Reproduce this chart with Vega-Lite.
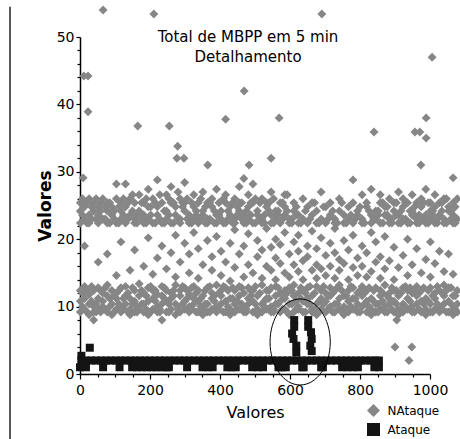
{
  "$schema": "https://vega.github.io/schema/vega-lite/v6.json",
  "width": 350,
  "height": 337,
  "autosize": "none",
  "padding": {"left": 80, "top": 37, "right": 30, "bottom": 65},
  "background": "white",
  "config": {"view": {"stroke": null}, "font": "DejaVu Sans"},
  "title": {
    "text": ["Total de MBPP em 5 min", "Detalhamento"],
    "anchor": "middle", "frame": "group", "orient": "top", "offset": 0,
    "baseline": "top", "dy": 59, "dx": -7,
    "fontSize": 15, "fontWeight": "normal", "lineHeight": 20, "color": "#000"
  },
  "datasets": {
    "na": [
      {"x":1,"y":9.2},{"x":1,"y":10.8},{"x":1,"y":12.4},{"x":1,"y":22.4},{"x":1,"y":24.2},{"x":1,"y":25.4},
      {"x":13,"y":9.6},{"x":13,"y":11.2},{"x":13,"y":13.0},{"x":13,"y":23.0},{"x":13,"y":24.8},{"x":13,"y":19.0},
      {"x":26,"y":8.8},{"x":26,"y":10.4},{"x":26,"y":11.8},{"x":26,"y":22.4},{"x":26,"y":23.6},{"x":26,"y":26.0},
      {"x":39,"y":9.2},{"x":39,"y":10.0},{"x":39,"y":12.4},{"x":39,"y":24.2},{"x":39,"y":25.4},{"x":39,"y":8.0},
      {"x":52,"y":9.6},{"x":52,"y":11.2},{"x":52,"y":12.8},{"x":52,"y":22.4},{"x":52,"y":23.6},{"x":52,"y":24.8},{"x":52,"y":16.6},
      {"x":65,"y":10.0},{"x":65,"y":10.8},{"x":65,"y":12.0},{"x":65,"y":23.0},{"x":65,"y":26.0},
      {"x":78,"y":9.2},{"x":78,"y":11.6},{"x":78,"y":13.2},{"x":78,"y":22.4},{"x":78,"y":24.2},{"x":78,"y":25.4},{"x":78,"y":17.8},
      {"x":91,"y":8.8},{"x":91,"y":10.4},{"x":91,"y":12.4},{"x":91,"y":23.6},{"x":91,"y":24.8},
      {"x":104,"y":9.6},{"x":104,"y":11.2},{"x":104,"y":12.0},{"x":104,"y":22.4},{"x":104,"y":26.0},{"x":104,"y":28.2},{"x":104,"y":14.6},
      {"x":117,"y":9.2},{"x":117,"y":10.0},{"x":117,"y":12.8},{"x":117,"y":23.0},{"x":117,"y":24.2},{"x":117,"y":25.4},{"x":117,"y":19.6},
      {"x":130,"y":10.4},{"x":130,"y":11.6},{"x":130,"y":13.0},{"x":130,"y":22.4},{"x":130,"y":24.8},{"x":130,"y":28.2},
      {"x":143,"y":8.8},{"x":143,"y":9.6},{"x":143,"y":11.2},{"x":143,"y":23.6},{"x":143,"y":26.0},{"x":143,"y":15.4},
      {"x":156,"y":9.2},{"x":156,"y":10.8},{"x":156,"y":12.4},{"x":156,"y":22.4},{"x":156,"y":23.0},{"x":156,"y":25.4},{"x":156,"y":18.4},
      {"x":169,"y":9.6},{"x":169,"y":11.6},{"x":169,"y":13.4},{"x":169,"y":24.2},{"x":169,"y":26.6},
      {"x":182,"y":9.2},{"x":182,"y":10.4},{"x":182,"y":12.0},{"x":182,"y":22.4},{"x":182,"y":23.6},{"x":182,"y":25.4},{"x":182,"y":16.0},
      {"x":195,"y":8.8},{"x":195,"y":10.8},{"x":195,"y":12.8},{"x":195,"y":23.0},{"x":195,"y":24.8},{"x":195,"y":27.4},{"x":195,"y":20.2},
      {"x":208,"y":9.6},{"x":208,"y":11.2},{"x":208,"y":12.4},{"x":208,"y":22.4},{"x":208,"y":26.0},{"x":208,"y":14.8},
      {"x":221,"y":9.2},{"x":221,"y":10.0},{"x":221,"y":11.8},{"x":221,"y":23.6},{"x":221,"y":24.8},{"x":221,"y":28.8},{"x":221,"y":17.2},
      {"x":234,"y":10.4},{"x":234,"y":11.6},{"x":234,"y":13.0},{"x":234,"y":22.4},{"x":234,"y":25.4},{"x":234,"y":8.0},{"x":234,"y":19.0},
      {"x":247,"y":9.2},{"x":247,"y":10.8},{"x":247,"y":12.4},{"x":247,"y":23.0},{"x":247,"y":24.2},{"x":247,"y":26.6},{"x":247,"y":15.6},
      {"x":260,"y":9.6},{"x":260,"y":11.2},{"x":260,"y":12.0},{"x":260,"y":22.4},{"x":260,"y":25.4},{"x":260,"y":27.8},{"x":260,"y":18.0},
      {"x":273,"y":8.8},{"x":273,"y":10.4},{"x":273,"y":13.2},{"x":273,"y":23.6},{"x":273,"y":24.8},{"x":273,"y":14.4},{"x":273,"y":20.6},
      {"x":286,"y":9.2},{"x":286,"y":11.6},{"x":286,"y":12.4},{"x":286,"y":22.4},{"x":286,"y":23.0},{"x":286,"y":26.0},{"x":286,"y":16.6},
      {"x":299,"y":9.6},{"x":299,"y":10.8},{"x":299,"y":12.8},{"x":299,"y":24.2},{"x":299,"y":25.4},{"x":299,"y":28.4},{"x":299,"y":19.4},
      {"x":312,"y":9.2},{"x":312,"y":10.0},{"x":312,"y":11.8},{"x":312,"y":22.4},{"x":312,"y":23.6},{"x":312,"y":15.0},{"x":312,"y":17.8},
      {"x":325,"y":10.4},{"x":325,"y":11.2},{"x":325,"y":13.0},{"x":325,"y":23.0},{"x":325,"y":24.8},{"x":325,"y":26.6},{"x":325,"y":21.0},
      {"x":338,"y":9.2},{"x":338,"y":10.8},{"x":338,"y":12.4},{"x":338,"y":22.4},{"x":338,"y":25.4},{"x":338,"y":14.2},{"x":338,"y":18.6},
      {"x":351,"y":8.8},{"x":351,"y":9.6},{"x":351,"y":11.6},{"x":351,"y":23.6},{"x":351,"y":24.2},{"x":351,"y":27.0},{"x":351,"y":16.2},
      {"x":364,"y":9.2},{"x":364,"y":10.4},{"x":364,"y":12.8},{"x":364,"y":22.4},{"x":364,"y":23.0},{"x":364,"y":25.4},{"x":364,"y":19.8},
      {"x":377,"y":9.6},{"x":377,"y":11.2},{"x":377,"y":12.0},{"x":377,"y":24.8},{"x":377,"y":26.0},{"x":377,"y":15.4},{"x":377,"y":17.4},
      {"x":390,"y":9.2},{"x":390,"y":10.0},{"x":390,"y":13.2},{"x":390,"y":22.4},{"x":390,"y":23.6},{"x":390,"y":27.4},{"x":390,"y":20.4},
      {"x":403,"y":10.4},{"x":403,"y":11.6},{"x":403,"y":12.4},{"x":403,"y":23.0},{"x":403,"y":24.2},{"x":403,"y":14.6},{"x":403,"y":18.2},
      {"x":416,"y":9.2},{"x":416,"y":10.8},{"x":416,"y":12.8},{"x":416,"y":22.4},{"x":416,"y":25.4},{"x":416,"y":26.6},{"x":416,"y":16.6},
      {"x":429,"y":8.8},{"x":429,"y":9.6},{"x":429,"y":11.2},{"x":429,"y":23.6},{"x":429,"y":24.8},{"x":429,"y":13.8},{"x":429,"y":19.4},
      {"x":442,"y":9.2},{"x":442,"y":10.4},{"x":442,"y":12.4},{"x":442,"y":22.4},{"x":442,"y":23.0},{"x":442,"y":26.0},{"x":442,"y":15.8},{"x":442,"y":21.4},
      {"x":455,"y":9.6},{"x":455,"y":11.6},{"x":455,"y":13.0},{"x":455,"y":24.2},{"x":455,"y":25.4},{"x":455,"y":27.8},{"x":455,"y":17.8},
      {"x":468,"y":9.2},{"x":468,"y":10.0},{"x":468,"y":12.0},{"x":468,"y":22.4},{"x":468,"y":23.6},{"x":468,"y":29.0},{"x":468,"y":14.4},{"x":468,"y":19.0},
      {"x":481,"y":10.4},{"x":481,"y":11.2},{"x":481,"y":12.8},{"x":481,"y":23.0},{"x":481,"y":24.8},{"x":481,"y":26.6},{"x":481,"y":16.2},{"x":481,"y":20.8},
      {"x":494,"y":9.2},{"x":494,"y":10.8},{"x":494,"y":12.4},{"x":494,"y":22.4},{"x":494,"y":25.4},{"x":494,"y":28.2},{"x":494,"y":15.0},
      {"x":507,"y":8.8},{"x":507,"y":9.6},{"x":507,"y":11.6},{"x":507,"y":23.6},{"x":507,"y":24.2},{"x":507,"y":17.4},{"x":507,"y":19.8},
      {"x":520,"y":9.2},{"x":520,"y":10.4},{"x":520,"y":13.2},{"x":520,"y":22.4},{"x":520,"y":23.0},{"x":520,"y":26.0},{"x":520,"y":14.2},{"x":520,"y":18.4},
      {"x":533,"y":9.6},{"x":533,"y":11.2},{"x":533,"y":12.4},{"x":533,"y":24.8},{"x":533,"y":25.4},{"x":533,"y":16.0},{"x":533,"y":21.6},
      {"x":546,"y":9.2},{"x":546,"y":10.0},{"x":546,"y":12.8},{"x":546,"y":22.4},{"x":546,"y":23.6},{"x":546,"y":27.0},{"x":546,"y":15.4},{"x":546,"y":18.8},
      {"x":559,"y":10.4},{"x":559,"y":11.6},{"x":559,"y":13.0},{"x":559,"y":23.0},{"x":559,"y":24.2},{"x":559,"y":14.0},{"x":559,"y":17.2},{"x":559,"y":20.0},
      {"x":572,"y":9.2},{"x":572,"y":10.8},{"x":572,"y":12.0},{"x":572,"y":22.4},{"x":572,"y":25.4},{"x":572,"y":16.4},{"x":572,"y":19.2},
      {"x":585,"y":9.6},{"x":585,"y":11.2},{"x":585,"y":12.4},{"x":585,"y":23.6},{"x":585,"y":24.8},{"x":585,"y":26.6},{"x":585,"y":15.0},{"x":585,"y":21.0},
      {"x":598,"y":8.8},{"x":598,"y":10.4},{"x":598,"y":12.8},{"x":598,"y":22.4},{"x":598,"y":23.0},{"x":598,"y":14.4},{"x":598,"y":17.8},
      {"x":611,"y":9.2},{"x":611,"y":11.6},{"x":611,"y":13.2},{"x":611,"y":24.2},{"x":611,"y":25.4},{"x":611,"y":16.2},{"x":611,"y":19.6},
      {"x":624,"y":9.6},{"x":624,"y":10.0},{"x":624,"y":12.0},{"x":624,"y":22.4},{"x":624,"y":23.6},{"x":624,"y":15.2},{"x":624,"y":18.2},{"x":624,"y":20.6},
      {"x":637,"y":9.2},{"x":637,"y":10.8},{"x":637,"y":12.4},{"x":637,"y":23.0},{"x":637,"y":26.0},{"x":637,"y":14.0},{"x":637,"y":16.8},
      {"x":650,"y":10.4},{"x":650,"y":11.2},{"x":650,"y":12.8},{"x":650,"y":22.4},{"x":650,"y":24.8},{"x":650,"y":17.4},{"x":650,"y":19.0},
      {"x":663,"y":9.2},{"x":663,"y":9.6},{"x":663,"y":11.6},{"x":663,"y":23.6},{"x":663,"y":25.4},{"x":663,"y":15.4},{"x":663,"y":21.2},
      {"x":676,"y":8.8},{"x":676,"y":10.4},{"x":676,"y":13.0},{"x":676,"y":22.4},{"x":676,"y":24.2},{"x":676,"y":14.2},{"x":676,"y":16.2},{"x":676,"y":18.6},
      {"x":689,"y":9.6},{"x":689,"y":11.2},{"x":689,"y":12.4},{"x":689,"y":23.0},{"x":689,"y":27.0},{"x":689,"y":15.6},{"x":689,"y":20.2},
      {"x":702,"y":9.2},{"x":702,"y":10.8},{"x":702,"y":12.0},{"x":702,"y":22.4},{"x":702,"y":24.8},{"x":702,"y":14.6},{"x":702,"y":17.6},
      {"x":715,"y":10.0},{"x":715,"y":11.6},{"x":715,"y":12.8},{"x":715,"y":23.6},{"x":715,"y":25.4},{"x":715,"y":16.0},{"x":715,"y":19.4},
      {"x":728,"y":9.2},{"x":728,"y":10.4},{"x":728,"y":12.4},{"x":728,"y":22.4},{"x":728,"y":23.0},{"x":728,"y":14.2},{"x":728,"y":18.0},{"x":728,"y":21.6},
      {"x":741,"y":9.6},{"x":741,"y":11.2},{"x":741,"y":13.2},{"x":741,"y":24.2},{"x":741,"y":26.0},{"x":741,"y":15.4},{"x":741,"y":17.0},
      {"x":754,"y":8.8},{"x":754,"y":10.0},{"x":754,"y":11.6},{"x":754,"y":22.4},{"x":754,"y":23.6},{"x":754,"y":16.4},{"x":754,"y":19.8},
      {"x":767,"y":9.2},{"x":767,"y":10.8},{"x":767,"y":12.4},{"x":767,"y":23.0},{"x":767,"y":24.8},{"x":767,"y":14.0},{"x":767,"y":18.4},
      {"x":780,"y":9.6},{"x":780,"y":11.2},{"x":780,"y":12.8},{"x":780,"y":22.4},{"x":780,"y":25.4},{"x":780,"y":28.8},{"x":780,"y":15.8},{"x":780,"y":20.6},
      {"x":793,"y":9.2},{"x":793,"y":10.4},{"x":793,"y":12.0},{"x":793,"y":23.6},{"x":793,"y":24.2},{"x":793,"y":14.6},{"x":793,"y":17.2},
      {"x":806,"y":10.0},{"x":806,"y":11.6},{"x":806,"y":13.0},{"x":806,"y":22.4},{"x":806,"y":23.0},{"x":806,"y":26.6},{"x":806,"y":16.0},{"x":806,"y":19.0},
      {"x":819,"y":9.2},{"x":819,"y":10.8},{"x":819,"y":12.4},{"x":819,"y":24.8},{"x":819,"y":25.4},{"x":819,"y":14.4},{"x":819,"y":18.0},
      {"x":832,"y":8.8},{"x":832,"y":9.6},{"x":832,"y":11.2},{"x":832,"y":22.4},{"x":832,"y":23.6},{"x":832,"y":27.4},{"x":832,"y":15.2},{"x":832,"y":21.0},
      {"x":845,"y":9.2},{"x":845,"y":10.4},{"x":845,"y":12.8},{"x":845,"y":23.0},{"x":845,"y":24.2},{"x":845,"y":16.6},{"x":845,"y":19.6},
      {"x":858,"y":9.6},{"x":858,"y":11.6},{"x":858,"y":12.4},{"x":858,"y":22.4},{"x":858,"y":25.4},{"x":858,"y":26.6},{"x":858,"y":14.2},{"x":858,"y":17.4},
      {"x":871,"y":9.2},{"x":871,"y":10.0},{"x":871,"y":13.2},{"x":871,"y":23.6},{"x":871,"y":24.8},{"x":871,"y":15.6},{"x":871,"y":20.4},
      {"x":884,"y":10.4},{"x":884,"y":11.2},{"x":884,"y":12.0},{"x":884,"y":22.4},{"x":884,"y":23.0},{"x":884,"y":26.0},{"x":884,"y":16.8},
      {"x":897,"y":9.2},{"x":897,"y":10.8},{"x":897,"y":12.4},{"x":897,"y":24.2},{"x":897,"y":25.4},{"x":897,"y":14.0},{"x":897,"y":18.8},
      {"x":910,"y":8.8},{"x":910,"y":9.6},{"x":910,"y":11.6},{"x":910,"y":22.4},{"x":910,"y":23.6},{"x":910,"y":27.0},{"x":910,"y":15.8},
      {"x":923,"y":9.2},{"x":923,"y":10.4},{"x":923,"y":12.8},{"x":923,"y":23.0},{"x":923,"y":24.8},{"x":923,"y":26.0},{"x":923,"y":17.6},
      {"x":936,"y":9.6},{"x":936,"y":11.2},{"x":936,"y":12.4},{"x":936,"y":22.4},{"x":936,"y":25.4},{"x":936,"y":14.6},{"x":936,"y":20.0},
      {"x":949,"y":9.2},{"x":949,"y":10.0},{"x":949,"y":12.0},{"x":949,"y":23.6},{"x":949,"y":24.2},{"x":949,"y":26.6},{"x":949,"y":16.2},
      {"x":962,"y":10.4},{"x":962,"y":11.6},{"x":962,"y":13.0},{"x":962,"y":22.4},{"x":962,"y":23.0},{"x":962,"y":25.4},{"x":962,"y":18.6},
      {"x":975,"y":9.2},{"x":975,"y":10.8},{"x":975,"y":12.4},{"x":975,"y":24.8},{"x":975,"y":26.0},{"x":975,"y":15.0},
      {"x":988,"y":8.8},{"x":988,"y":9.6},{"x":988,"y":11.2},{"x":988,"y":22.4},{"x":988,"y":23.6},{"x":988,"y":27.4},{"x":988,"y":17.0},
      {"x":1001,"y":9.2},{"x":1001,"y":10.4},{"x":1001,"y":12.8},{"x":1001,"y":23.0},{"x":1001,"y":24.2},{"x":1001,"y":25.4},{"x":1001,"y":14.4},{"x":1001,"y":19.6},
      {"x":1014,"y":9.6},{"x":1014,"y":11.2},{"x":1014,"y":12.0},{"x":1014,"y":22.4},{"x":1014,"y":24.8},{"x":1014,"y":26.6},{"x":1014,"y":16.4},
      {"x":1027,"y":9.2},{"x":1027,"y":10.0},{"x":1027,"y":12.4},{"x":1027,"y":23.6},{"x":1027,"y":25.4},{"x":1027,"y":18.2},
      {"x":1040,"y":10.4},{"x":1040,"y":11.6},{"x":1040,"y":13.2},{"x":1040,"y":22.4},{"x":1040,"y":23.0},{"x":1040,"y":26.0},{"x":1040,"y":15.2},
      {"x":1053,"y":9.2},{"x":1053,"y":10.8},{"x":1053,"y":12.8},{"x":1053,"y":24.2},{"x":1053,"y":24.8},{"x":1053,"y":17.8},
      {"x":1066,"y":8.8},{"x":1066,"y":9.6},{"x":1066,"y":11.6},{"x":1066,"y":22.4},{"x":1066,"y":23.6},{"x":1066,"y":25.4},{"x":1066,"y":14.8},
      {"x":1078,"y":9.2},{"x":1078,"y":10.4},{"x":1078,"y":12.4},{"x":1078,"y":23.0},{"x":1078,"y":26.0},
      {"x":7,"y":10.0},{"x":7,"y":12.0},{"x":7,"y":23.6},{"x":7,"y":26.0},
      {"x":20,"y":9.2},{"x":20,"y":12.4},{"x":20,"y":22.4},{"x":20,"y":25.4},
      {"x":33,"y":10.8},{"x":33,"y":13.0},{"x":33,"y":23.0},{"x":33,"y":24.8},
      {"x":46,"y":9.2},{"x":46,"y":10.4},{"x":46,"y":23.0},{"x":46,"y":26.0},
      {"x":59,"y":9.2},{"x":59,"y":12.4},{"x":59,"y":24.2},{"x":59,"y":25.4},
      {"x":72,"y":9.6},{"x":72,"y":12.8},{"x":72,"y":23.0},{"x":72,"y":24.8},
      {"x":85,"y":10.0},{"x":85,"y":11.2},{"x":85,"y":22.4},{"x":85,"y":25.4},
      {"x":98,"y":9.2},{"x":98,"y":11.6},{"x":98,"y":23.0},{"x":98,"y":24.2},
      {"x":111,"y":10.4},{"x":111,"y":12.4},{"x":111,"y":22.4},{"x":111,"y":24.8},
      {"x":124,"y":9.6},{"x":124,"y":11.2},{"x":124,"y":23.6},{"x":124,"y":26.0},
      {"x":137,"y":9.2},{"x":137,"y":12.0},{"x":137,"y":23.0},{"x":137,"y":25.4},
      {"x":150,"y":10.4},{"x":150,"y":12.8},{"x":150,"y":24.2},{"x":150,"y":26.6},
      {"x":163,"y":9.2},{"x":163,"y":10.0},{"x":163,"y":22.4},{"x":163,"y":23.6},
      {"x":176,"y":10.4},{"x":176,"y":12.4},{"x":176,"y":23.0},{"x":176,"y":25.4},
      {"x":189,"y":9.6},{"x":189,"y":11.6},{"x":189,"y":22.4},{"x":189,"y":26.0},
      {"x":202,"y":9.2},{"x":202,"y":13.0},{"x":202,"y":23.6},{"x":202,"y":24.8},
      {"x":215,"y":10.8},{"x":215,"y":12.4},{"x":215,"y":22.4},{"x":215,"y":25.4},
      {"x":228,"y":9.2},{"x":228,"y":9.6},{"x":228,"y":23.0},{"x":228,"y":26.6},
      {"x":241,"y":11.2},{"x":241,"y":12.8},{"x":241,"y":22.4},{"x":241,"y":24.2},
      {"x":254,"y":9.2},{"x":254,"y":10.4},{"x":254,"y":23.6},{"x":254,"y":26.0},
      {"x":267,"y":11.6},{"x":267,"y":12.4},{"x":267,"y":22.4},{"x":267,"y":25.4},
      {"x":280,"y":9.6},{"x":280,"y":10.0},{"x":280,"y":23.0},{"x":280,"y":27.0},
      {"x":293,"y":10.4},{"x":293,"y":13.0},{"x":293,"y":24.8},{"x":293,"y":25.4},
      {"x":306,"y":11.2},{"x":306,"y":12.4},{"x":306,"y":23.0},{"x":306,"y":26.0},
      {"x":319,"y":9.6},{"x":319,"y":12.8},{"x":319,"y":22.4},{"x":319,"y":25.4},
      {"x":332,"y":9.2},{"x":332,"y":12.0},{"x":332,"y":23.6},{"x":332,"y":24.2},
      {"x":345,"y":10.0},{"x":345,"y":11.2},{"x":345,"y":23.0},{"x":345,"y":26.0},
      {"x":358,"y":10.4},{"x":358,"y":12.4},{"x":358,"y":24.8},{"x":358,"y":22.4},
      {"x":371,"y":9.2},{"x":371,"y":13.0},{"x":371,"y":23.0},{"x":371,"y":25.4},
      {"x":384,"y":10.8},{"x":384,"y":11.6},{"x":384,"y":22.4},{"x":384,"y":24.2},
      {"x":397,"y":9.6},{"x":397,"y":12.0},{"x":397,"y":23.6},{"x":397,"y":25.4},
      {"x":410,"y":9.2},{"x":410,"y":13.0},{"x":410,"y":22.4},{"x":410,"y":26.0},
      {"x":423,"y":10.0},{"x":423,"y":12.4},{"x":423,"y":23.0},{"x":423,"y":24.2},
      {"x":436,"y":11.2},{"x":436,"y":12.8},{"x":436,"y":22.4},{"x":436,"y":25.4},
      {"x":449,"y":9.6},{"x":449,"y":10.8},{"x":449,"y":23.6},{"x":449,"y":24.8},
      {"x":462,"y":10.4},{"x":462,"y":12.8},{"x":462,"y":23.0},{"x":462,"y":25.4},
      {"x":475,"y":9.2},{"x":475,"y":9.6},{"x":475,"y":22.4},{"x":475,"y":24.2},
      {"x":488,"y":11.6},{"x":488,"y":12.4},{"x":488,"y":23.6},{"x":488,"y":25.4},
      {"x":501,"y":10.4},{"x":501,"y":13.0},{"x":501,"y":22.4},{"x":501,"y":26.0},
      {"x":514,"y":9.2},{"x":514,"y":12.0},{"x":514,"y":23.0},{"x":514,"y":25.4},
      {"x":527,"y":10.0},{"x":527,"y":10.8},{"x":527,"y":22.4},{"x":527,"y":23.6},
      {"x":540,"y":11.2},{"x":540,"y":12.4},{"x":540,"y":24.2},{"x":540,"y":25.4},
      {"x":553,"y":9.2},{"x":553,"y":9.6},{"x":553,"y":22.4},{"x":553,"y":26.0},
      {"x":566,"y":10.4},{"x":566,"y":12.8},{"x":566,"y":23.6},{"x":566,"y":24.2},
      {"x":579,"y":9.6},{"x":579,"y":11.6},{"x":579,"y":23.0},{"x":579,"y":25.4},
      {"x":592,"y":9.2},{"x":592,"y":12.0},{"x":592,"y":24.2},{"x":592,"y":26.6},
      {"x":605,"y":10.4},{"x":605,"y":12.4},{"x":605,"y":22.4},{"x":605,"y":23.0},
      {"x":618,"y":9.6},{"x":618,"y":10.8},{"x":618,"y":23.6},{"x":618,"y":24.8},
      {"x":631,"y":11.2},{"x":631,"y":12.8},{"x":631,"y":22.4},
      {"x":644,"y":9.2},{"x":644,"y":12.0},{"x":644,"y":24.2},
      {"x":657,"y":10.4},{"x":657,"y":13.0},{"x":657,"y":23.0},
      {"x":670,"y":9.6},{"x":670,"y":12.0},{"x":670,"y":25.4},
      {"x":683,"y":9.2},{"x":683,"y":10.8},{"x":683,"y":22.4},
      {"x":696,"y":10.4},{"x":696,"y":13.0},{"x":696,"y":24.8},
      {"x":709,"y":9.6},{"x":709,"y":11.6},{"x":709,"y":23.0},
      {"x":722,"y":9.2},{"x":722,"y":12.0},{"x":722,"y":24.2},
      {"x":735,"y":10.4},{"x":735,"y":12.8},{"x":735,"y":22.4},
      {"x":748,"y":9.2},{"x":748,"y":12.4},{"x":748,"y":25.4},
      {"x":761,"y":9.6},{"x":761,"y":11.6},{"x":761,"y":22.4},
      {"x":774,"y":10.0},{"x":774,"y":13.0},{"x":774,"y":23.6},
      {"x":787,"y":9.6},{"x":787,"y":11.2},{"x":787,"y":23.0},
      {"x":800,"y":9.2},{"x":800,"y":12.4},{"x":800,"y":24.8},
      {"x":813,"y":10.4},{"x":813,"y":12.0},{"x":813,"y":22.4},
      {"x":826,"y":10.0},{"x":826,"y":12.8},{"x":826,"y":24.2},
      {"x":839,"y":10.8},{"x":839,"y":12.4},{"x":839,"y":23.0},
      {"x":852,"y":9.2},{"x":852,"y":10.4},{"x":852,"y":23.6},{"x":852,"y":24.2},
      {"x":865,"y":10.8},{"x":865,"y":12.0},{"x":865,"y":22.4},{"x":865,"y":25.4},
      {"x":878,"y":9.2},{"x":878,"y":11.6},{"x":878,"y":23.6},{"x":878,"y":24.8},
      {"x":891,"y":9.6},{"x":891,"y":12.8},{"x":891,"y":22.4},{"x":891,"y":23.0},
      {"x":904,"y":10.4},{"x":904,"y":12.4},{"x":904,"y":23.6},{"x":904,"y":25.4},
      {"x":917,"y":9.6},{"x":917,"y":12.0},{"x":917,"y":22.4},{"x":917,"y":24.2},
      {"x":930,"y":10.0},{"x":930,"y":13.0},{"x":930,"y":23.0},{"x":930,"y":25.4},
      {"x":943,"y":10.8},{"x":943,"y":12.8},{"x":943,"y":22.4},{"x":943,"y":24.2},
      {"x":956,"y":9.2},{"x":956,"y":12.4},{"x":956,"y":23.6},{"x":956,"y":24.8},
      {"x":969,"y":9.6},{"x":969,"y":12.0},{"x":969,"y":22.4},{"x":969,"y":23.6},
      {"x":982,"y":10.4},{"x":982,"y":12.8},{"x":982,"y":23.0},{"x":982,"y":25.4},
      {"x":995,"y":10.8},{"x":995,"y":12.4},{"x":995,"y":22.4},{"x":995,"y":25.4},
      {"x":1008,"y":9.2},{"x":1008,"y":11.6},{"x":1008,"y":23.6},{"x":1008,"y":24.2},
      {"x":1021,"y":10.4},{"x":1021,"y":13.0},{"x":1021,"y":22.4},{"x":1021,"y":23.0},
      {"x":1034,"y":9.6},{"x":1034,"y":12.0},{"x":1034,"y":24.2},{"x":1034,"y":25.4},
      {"x":1047,"y":9.2},{"x":1047,"y":12.4},{"x":1047,"y":22.4},{"x":1047,"y":26.0},
      {"x":1060,"y":10.4},{"x":1060,"y":12.8},{"x":1060,"y":23.0},{"x":1060,"y":24.2},
      {"x":1072,"y":9.6},{"x":1072,"y":11.6},{"x":1072,"y":22.4},{"x":1072,"y":24.8},
      {"x":66,"y":54},{"x":211,"y":53.4},{"x":691,"y":53.4},{"x":11,"y":44.2},{"x":23,"y":44.2},{"x":23,"y":38.9},
      {"x":9,"y":29.1},{"x":165,"y":36.8},{"x":255,"y":36.8},{"x":279,"y":33.8},{"x":277,"y":32},{"x":297,"y":32},
      {"x":365,"y":31},{"x":416,"y":37.8},{"x":469,"y":42},{"x":569,"y":38},{"x":546,"y":32},{"x":483,"y":31},
      {"x":840,"y":35.9},{"x":957,"y":35.9},{"x":971,"y":35.9},{"x":989,"y":38},{"x":989,"y":35},{"x":1006,"y":47},
      {"x":974,"y":31},{"x":1066,"y":29.1},{"x":905,"y":8},{"x":900,"y":4},{"x":948,"y":4},{"x":940,"y":2}
    ],
    "at": [
      {"x":4,"y":2},{"x":18,"y":2},{"x":32,"y":2},{"x":46,"y":2},{"x":60,"y":2},{"x":74,"y":2},{"x":88,"y":2},{"x":102,"y":2},
      {"x":116,"y":2},{"x":130,"y":2},{"x":144,"y":2},{"x":158,"y":2},{"x":172,"y":2},{"x":186,"y":2},{"x":200,"y":2},{"x":214,"y":2},
      {"x":228,"y":2},{"x":242,"y":2},{"x":256,"y":2},{"x":270,"y":2},{"x":284,"y":2},{"x":298,"y":2},{"x":312,"y":2},{"x":326,"y":2},
      {"x":340,"y":2},{"x":354,"y":2},{"x":368,"y":2},{"x":382,"y":2},{"x":396,"y":2},{"x":410,"y":2},{"x":424,"y":2},{"x":438,"y":2},
      {"x":452,"y":2},{"x":466,"y":2},{"x":480,"y":2},{"x":494,"y":2},{"x":508,"y":2},{"x":522,"y":2},{"x":536,"y":2},{"x":550,"y":2},
      {"x":564,"y":2},{"x":578,"y":2},{"x":592,"y":2},{"x":606,"y":2},{"x":620,"y":2},{"x":634,"y":2},{"x":648,"y":2},{"x":662,"y":2},
      {"x":676,"y":2},{"x":690,"y":2},{"x":704,"y":2},{"x":718,"y":2},{"x":732,"y":2},{"x":746,"y":2},{"x":760,"y":2},{"x":774,"y":2},
      {"x":788,"y":2},{"x":802,"y":2},{"x":816,"y":2},{"x":830,"y":2},{"x":844,"y":2},{"x":854,"y":2},
      {"x":0,"y":1},{"x":17,"y":1},{"x":66,"y":1},{"x":113,"y":1},{"x":149,"y":1},{"x":163,"y":1},{"x":177,"y":1},{"x":191,"y":1},
      {"x":205,"y":1},{"x":219,"y":1},{"x":233,"y":1},{"x":247,"y":1},{"x":254,"y":1},{"x":306,"y":1},{"x":350,"y":1},{"x":365,"y":1},
      {"x":379,"y":1},{"x":421,"y":1},{"x":433,"y":1},{"x":445,"y":1},{"x":492,"y":1},{"x":508,"y":1},{"x":523,"y":1},{"x":567,"y":1},
      {"x":578,"y":1},{"x":588,"y":1},{"x":635,"y":1},{"x":639,"y":1},{"x":689,"y":1},{"x":694,"y":1},{"x":749,"y":1},{"x":764,"y":1},
      {"x":779,"y":1},{"x":794,"y":1},{"x":841,"y":1},{"x":854,"y":1},
      {"x":4,"y":2.7},{"x":28,"y":3.9},
      {"x":612,"y":8.0},{"x":612,"y":7.0},{"x":606,"y":6.0},{"x":610,"y":5.2},{"x":618,"y":4.2},{"x":618,"y":3.2},
      {"x":652,"y":8.0},{"x":652,"y":7.0},{"x":660,"y":6.2},{"x":662,"y":5.2},{"x":658,"y":4.2},{"x":662,"y":3.4}
    ]
  },
  "layer": [
    {
      "data": {"values": [{"k": "frame"}]},
      "mark": {"type": "rule", "clip": false, "color": "#222", "strokeWidth": 1.5},
      "encoding": {
        "x": {"datum": -200, "type": "quantitative", "scale": {"domain": [0, 1000], "nice": false, "zero": false},
          "axis": {
            "title": "Valores", "format": "d",
            "values": [0,50,100,150,200,250,300,350,400,450,500,550,600,650,700,750,800,850,900,950,1000],
            "labelExpr": "datum.value % 200 === 0 ? datum.label : ''",
            "tickSize": {"condition": {"test": "datum.value % 200 === 0", "value": 5}, "value": 3},
            "labelOverlap": false, "labelFlush": false, "grid": false,
            "domainColor": "#000", "domainWidth": 1.5, "tickColor": "#000", "tickWidth": 1.2,
            "labelColor": "#000", "labelFontSize": 14, "labelPadding": 4,
            "titleColor": "#000", "titleFontSize": 16, "titleFontWeight": "normal",
            "titleBaseline": "alphabetic", "titleY": 43
          }},
        "y": {"datum": 54.5, "type": "quantitative", "scale": {"domain": [0, 50], "nice": false, "zero": false},
          "axis": {
            "title": "Valores",
            "values": [0,2,4,6,8,10,12,14,16,18,20,22,24,26,28,30,32,34,36,38,40,42,44,46,48,50],
            "labelExpr": "datum.value % 10 === 0 ? datum.label : ''",
            "tickSize": {"condition": {"test": "datum.value % 10 === 0", "value": 4}, "value": 3},
            "labelOverlap": false, "labelFlush": false, "grid": false,
            "domainColor": "#000", "domainWidth": 1.5, "tickColor": "#000", "tickWidth": 1.2,
            "labelColor": "#000", "labelFontSize": 14, "labelPadding": 2,
            "titleColor": "#000", "titleFontSize": 17, "titleFontWeight": "bold",
            "titleBaseline": "alphabetic", "titleX": -30
          }},
        "y2": {"datum": -9.7}
      }
    },
    {
      "data": {"name": "na"},
      "mark": {"type": "point", "filled": true, "size": 80, "opacity": 1, "clip": false},
      "encoding": {
        "x": {"field": "x", "type": "quantitative", "scale": {"domain": [0, 1000], "nice": false, "zero": false},
          "axis": {
            "title": "Valores", "format": "d",
            "values": [0,50,100,150,200,250,300,350,400,450,500,550,600,650,700,750,800,850,900,950,1000],
            "labelExpr": "datum.value % 200 === 0 ? datum.label : ''",
            "tickSize": {"condition": {"test": "datum.value % 200 === 0", "value": 5}, "value": 3},
            "labelOverlap": false, "labelFlush": false, "grid": false,
            "domainColor": "#000", "domainWidth": 1.5, "tickColor": "#000", "tickWidth": 1.2,
            "labelColor": "#000", "labelFontSize": 14, "labelPadding": 4,
            "titleColor": "#000", "titleFontSize": 16, "titleFontWeight": "normal",
            "titleBaseline": "alphabetic", "titleY": 43
          }},
        "y": {"field": "y", "type": "quantitative", "scale": {"domain": [0, 50], "nice": false, "zero": false},
          "axis": {
            "title": "Valores",
            "values": [0,2,4,6,8,10,12,14,16,18,20,22,24,26,28,30,32,34,36,38,40,42,44,46,48,50],
            "labelExpr": "datum.value % 10 === 0 ? datum.label : ''",
            "tickSize": {"condition": {"test": "datum.value % 10 === 0", "value": 4}, "value": 3},
            "labelOverlap": false, "labelFlush": false, "grid": false,
            "domainColor": "#000", "domainWidth": 1.5, "tickColor": "#000", "tickWidth": 1.2,
            "labelColor": "#000", "labelFontSize": 14, "labelPadding": 2,
            "titleColor": "#000", "titleFontSize": 17, "titleFontWeight": "bold",
            "titleBaseline": "alphabetic", "titleX": -30
          }},
        "color": {
          "datum": "NAtaque", "type": "nominal",
          "scale": {"domain": ["NAtaque", "Ataque"], "range": ["#868686", "#141414"]},
          "legend": {"orient": "none", "legendX": 286.5, "legendY": 366.5, "title": null, "symbolSize": 170, "labelFontSize": 12, "labelColor": "#000", "labelOffset": 7, "rowPadding": 5, "padding": 0, "symbolStrokeWidth": 0}
        },
        "shape": {
          "datum": "NAtaque", "type": "nominal",
          "scale": {"domain": ["NAtaque", "Ataque"], "range": ["diamond", "square"]},
          "legend": {"orient": "none", "legendX": 286.5, "legendY": 366.5, "title": null, "symbolSize": 170, "labelFontSize": 12, "labelColor": "#000", "labelOffset": 7, "rowPadding": 5, "padding": 0, "symbolStrokeWidth": 0}
        }
      }
    },
    {
      "data": {"name": "at"},
      "mark": {"type": "point", "filled": true, "size": 64, "opacity": 1, "clip": false},
      "encoding": {
        "x": {"field": "x", "type": "quantitative", "scale": {"domain": [0, 1000], "nice": false, "zero": false},
          "axis": {
            "title": "Valores", "format": "d",
            "values": [0,50,100,150,200,250,300,350,400,450,500,550,600,650,700,750,800,850,900,950,1000],
            "labelExpr": "datum.value % 200 === 0 ? datum.label : ''",
            "tickSize": {"condition": {"test": "datum.value % 200 === 0", "value": 5}, "value": 3},
            "labelOverlap": false, "labelFlush": false, "grid": false,
            "domainColor": "#000", "domainWidth": 1.5, "tickColor": "#000", "tickWidth": 1.2,
            "labelColor": "#000", "labelFontSize": 14, "labelPadding": 4,
            "titleColor": "#000", "titleFontSize": 16, "titleFontWeight": "normal",
            "titleBaseline": "alphabetic", "titleY": 43
          }},
        "y": {"field": "y", "type": "quantitative", "scale": {"domain": [0, 50], "nice": false, "zero": false},
          "axis": {
            "title": "Valores",
            "values": [0,2,4,6,8,10,12,14,16,18,20,22,24,26,28,30,32,34,36,38,40,42,44,46,48,50],
            "labelExpr": "datum.value % 10 === 0 ? datum.label : ''",
            "tickSize": {"condition": {"test": "datum.value % 10 === 0", "value": 4}, "value": 3},
            "labelOverlap": false, "labelFlush": false, "grid": false,
            "domainColor": "#000", "domainWidth": 1.5, "tickColor": "#000", "tickWidth": 1.2,
            "labelColor": "#000", "labelFontSize": 14, "labelPadding": 2,
            "titleColor": "#000", "titleFontSize": 17, "titleFontWeight": "bold",
            "titleBaseline": "alphabetic", "titleX": -30
          }},
        "color": {"datum": "Ataque", "type": "nominal"},
        "shape": {"datum": "Ataque", "type": "nominal"}
      }
    },
    {
      "data": {"values": [{"k": "ellipse"}]},
      "mark": {
        "type": "point", "filled": false, "opacity": 1, "clip": false,
        "shape": "M 0 -1 C 0.3866 -1 0.7 -0.5523 0.7 0 C 0.7 0.5523 0.3866 1 0 1 C -0.3866 1 -0.7 0.5523 -0.7 0 C -0.7 -0.5523 -0.3866 -1 0 -1 Z",
        "size": 7396, "stroke": "#000", "strokeWidth": 1
      },
      "encoding": {
        "x": {"datum": 629, "type": "quantitative", "scale": {"domain": [0, 1000], "nice": false, "zero": false},
          "axis": {
            "title": "Valores", "format": "d",
            "values": [0,50,100,150,200,250,300,350,400,450,500,550,600,650,700,750,800,850,900,950,1000],
            "labelExpr": "datum.value % 200 === 0 ? datum.label : ''",
            "tickSize": {"condition": {"test": "datum.value % 200 === 0", "value": 5}, "value": 3},
            "labelOverlap": false, "labelFlush": false, "grid": false,
            "domainColor": "#000", "domainWidth": 1.5, "tickColor": "#000", "tickWidth": 1.2,
            "labelColor": "#000", "labelFontSize": 14, "labelPadding": 4,
            "titleColor": "#000", "titleFontSize": 16, "titleFontWeight": "normal",
            "titleBaseline": "alphabetic", "titleY": 43
          }},
        "y": {"datum": 4.75, "type": "quantitative", "scale": {"domain": [0, 50], "nice": false, "zero": false},
          "axis": {
            "title": "Valores",
            "values": [0,2,4,6,8,10,12,14,16,18,20,22,24,26,28,30,32,34,36,38,40,42,44,46,48,50],
            "labelExpr": "datum.value % 10 === 0 ? datum.label : ''",
            "tickSize": {"condition": {"test": "datum.value % 10 === 0", "value": 4}, "value": 3},
            "labelOverlap": false, "labelFlush": false, "grid": false,
            "domainColor": "#000", "domainWidth": 1.5, "tickColor": "#000", "tickWidth": 1.2,
            "labelColor": "#000", "labelFontSize": 14, "labelPadding": 2,
            "titleColor": "#000", "titleFontSize": 17, "titleFontWeight": "bold",
            "titleBaseline": "alphabetic", "titleX": -30
          }}
      }
    }
  ]
}
